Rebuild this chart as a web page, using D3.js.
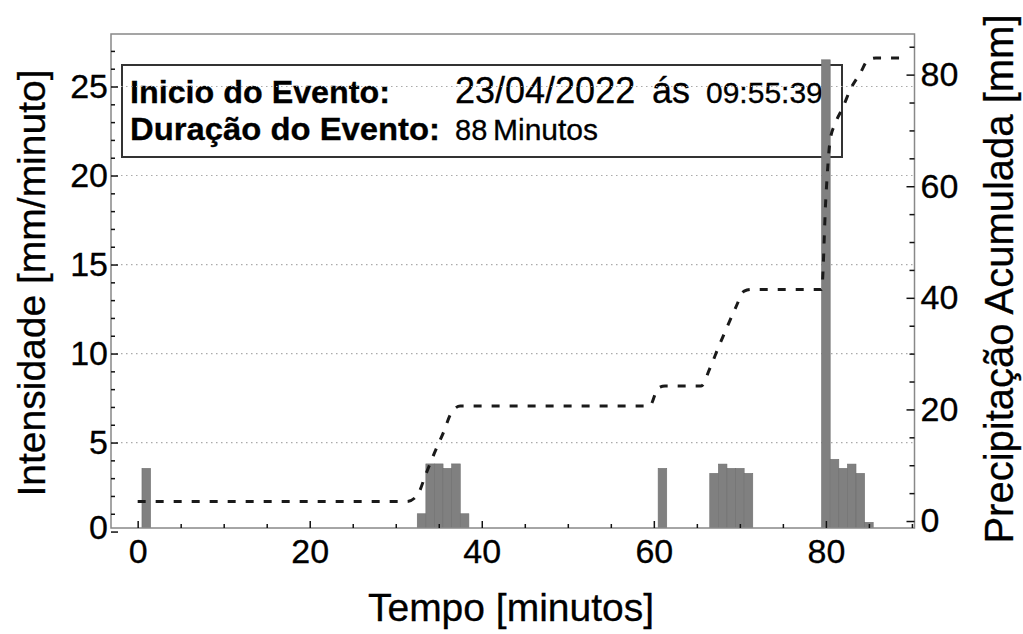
<!DOCTYPE html>
<html>
<head>
<meta charset="utf-8">
<script src="https://cdnjs.cloudflare.com/ajax/libs/d3/7.8.5/d3.min.js"></script>
<style>
  body { margin: 0; background: #fff; }
  text { font-family: "Liberation Sans", Arial, sans-serif; }
</style>
</head>
<body>
<svg id="chart" width="1023" height="634"></svg>
<script>
// intensity bars, one per minute
const barMinutes = [1, 33, 34, 35, 36, 37, 38, 61, 67, 68, 69, 70, 71, 80, 81, 82, 83, 84, 85]
const barValues  = [3.55, 1.0, 3.8, 3.8, 3.55, 3.8, 1.0, 3.55, 3.27, 3.79, 3.55, 3.55, 3.27, 26.5, 4.06, 3.55, 3.79, 3.27, 0.52]

// accumulated precipitation (dashed line)
const cumMinutes = [0, 31.3, 32.5, 33.5, 34.5, 35.5, 36.5, 37.5, 59.5, 60.5, 61.3, 65.5, 66.5, 67.5, 68.5, 69.5, 70.5, 71.3, 79.5, 80.0, 80.5, 81.1, 82.0, 82.8, 84.0, 84.9, 85.8, 88.7]
const cumValues  = [3.5, 3.5, 4.6, 8.4, 12.2, 15.7, 19.5, 20.6, 20.6, 23.8, 24.2, 24.2, 27.3, 31.1, 34.7, 38.2, 41.2, 41.5, 41.5, 58, 68.3, 71.3, 74.2, 77.2, 80.3, 82.6, 83.0, 83.0]

const xTicks = [0, 20, 40, 60, 80]
const xMinor = [5, 10, 15, 25, 30, 35, 45, 50, 55, 65, 70, 75, 85, 90]
const leftTicks = [0, 5, 10, 15, 20, 25]
const leftMinor = d3.range(1, 28).filter(d => d % 5 !== 0)
const rightTicks = [0, 20, 40, 60, 80]
const rightMinor = [5, 10, 15, 25, 30, 35, 45, 50, 55, 65, 70, 75, 85]

const eventLabels = ['Inicio do Evento:', 'Duração do Evento:']
const eventStart = ['23/04/2022', 'ás', '09:55:39']
const eventDuration = ['88', 'Minutos']

const plot = { left: 111, right: 914.5, top: 34, bottom: 528 }

const svg = d3.select('#chart')

const x = d3.scaleLinear().domain([-3.1, 90.3]).range([plot.left, plot.right])
const y = d3.scaleLinear().domain([0.2, 27.95]).range([plot.bottom, plot.top])
const y2 = d3.scaleLinear().domain([-1.25, 87.28]).range([plot.bottom, plot.top])

svg.append('defs').append('clipPath').attr('id', 'clip')
  .append('rect')
  .attr('x', plot.left).attr('y', plot.top)
  .attr('width', plot.right - plot.left).attr('height', plot.bottom - plot.top)

// legend box (under everything)
const box = svg.append('g')
box.append('rect')
  .attr('x', 122).attr('y', 65).attr('width', 720).attr('height', 92)
  .attr('fill', 'none').attr('stroke', '#333').attr('stroke-width', 2)
box.selectAll('.lab').data(eventLabels).join('text')
  .attr('x', 130).attr('y', (d, i) => 103 + i * 37)
  .attr('font-size', 31).attr('font-weight', 'bold')
  .attr('textLength', (d, i) => i ? 310 : 260).attr('lengthAdjust', 'spacingAndGlyphs')
  .text(d => d)
box.append('text').attr('x', 455).attr('y', 103).attr('font-size', 36).text(eventStart[0])
box.append('text').attr('x', 652).attr('y', 103).attr('font-size', 36).text(eventStart[1])
box.append('text').attr('x', 706).attr('y', 103).attr('font-size', 30).text(eventStart[2])
box.append('text').attr('x', 455).attr('y', 140).attr('font-size', 29).text(eventDuration[0])
box.append('text').attr('x', 493).attr('y', 140).attr('font-size', 30).text(eventDuration[1])
box.selectAll('text').attr('stroke', '#000').attr('stroke-width', 0.3)

// grid lines
svg.append('g').selectAll('line').data(leftTicks.filter(d => d > 0)).join('line')
  .attr('x1', plot.left).attr('x2', plot.right)
  .attr('y1', d => y(d)).attr('y2', d => y(d))
  .attr('stroke', '#aaa').attr('stroke-width', 1.2).attr('stroke-dasharray', '1.5,3.5')

// bars
svg.append('g').attr('clip-path', 'url(#clip)')
  .selectAll('rect').data(barMinutes).join('rect')
  .attr('x', d => x(d - 0.5))
  .attr('width', d => x(d + 0.5) - x(d - 0.5))
  .attr('y', (d, i) => y(barValues[i]))
  .attr('height', (d, i) => y(0) - y(barValues[i]))
  .attr('fill', '#808080').attr('stroke', '#6f6f6f').attr('stroke-width', 0.6)

// accumulated line
const line = d3.line()
  .x((d, i) => x(cumMinutes[i]))
  .y((d, i) => y2(cumValues[i]))
  .curve(d3.curveMonotoneX)
svg.append('path').attr('clip-path', 'url(#clip)')
  .attr('d', line(cumMinutes))
  .attr('fill', 'none').attr('stroke', '#1a1a1a').attr('stroke-width', 3)
  .attr('stroke-dasharray', '8,10')

// frame
svg.append('rect')
  .attr('x', plot.left).attr('y', plot.top)
  .attr('width', plot.right - plot.left).attr('height', plot.bottom - plot.top)
  .attr('fill', 'none').attr('stroke', '#888').attr('stroke-width', 1.5)

function styleAxis(g) {
  g.select('.domain').remove()
  g.selectAll('.tick line').attr('stroke', '#111').attr('stroke-width', 1.5)
  g.selectAll('.tick text').attr('font-size', 34).attr('fill', '#000')
    .attr('stroke', '#000').attr('stroke-width', 0.3)
    .style('font-family', '"Liberation Sans", Arial, sans-serif')
}

// bottom axis
svg.append('g').attr('transform', `translate(0,${plot.bottom})`)
  .call(d3.axisBottom(x).tickValues(xMinor).tickSize(-4).tickFormat(''))
  .call(styleAxis)
svg.append('g').attr('transform', `translate(0,${plot.bottom})`)
  .call(d3.axisBottom(x).tickValues(xTicks).tickSize(-7).tickPadding(0))
  .call(styleAxis)
  .call(g => g.selectAll('.tick text').attr('y', 11).attr('dy', '0.71em'))

// left axis
svg.append('g').attr('transform', `translate(${plot.left},0)`)
  .call(d3.axisLeft(y).tickValues(leftMinor).tickSize(-4).tickFormat(''))
  .call(styleAxis)
svg.append('g').attr('transform', `translate(${plot.left},0)`)
  .call(d3.axisLeft(y).tickValues(leftTicks).tickSize(-7))
  .call(styleAxis)
  .call(g => g.selectAll('.tick text').attr('x', -3))
  .call(g => g.selectAll('.tick').filter(d => d === 0).select('text').attr('dy', '0.2em'))

// right axis
svg.append('g').attr('transform', `translate(${plot.right},0)`)
  .call(d3.axisRight(y2).tickValues(rightMinor).tickSize(-5).tickFormat(''))
  .call(styleAxis)
svg.append('g').attr('transform', `translate(${plot.right},0)`)
  .call(d3.axisRight(y2).tickValues(rightTicks).tickSize(-8))
  .call(styleAxis)
  .call(g => g.selectAll('.tick text').attr('x', 6))

// axis titles
const titles = svg.append('g').attr('font-size', 39).attr('stroke', '#000').attr('stroke-width', 0.3)
titles.append('text')
  .attr('x', 511).attr('y', 621).attr('text-anchor', 'middle')
  .text('Tempo [minutos]')
titles.append('text')
  .attr('transform', 'translate(45,283) rotate(-90)').attr('text-anchor', 'middle')
  .text('Intensidade [mm/minuto]')
titles.append('text')
  .attr('transform', 'translate(1013,279) rotate(-90)').attr('text-anchor', 'middle')
  .attr('font-size', 40).text('Precipitação Acumulada  [mm]')
</script>
</body>
</html>
